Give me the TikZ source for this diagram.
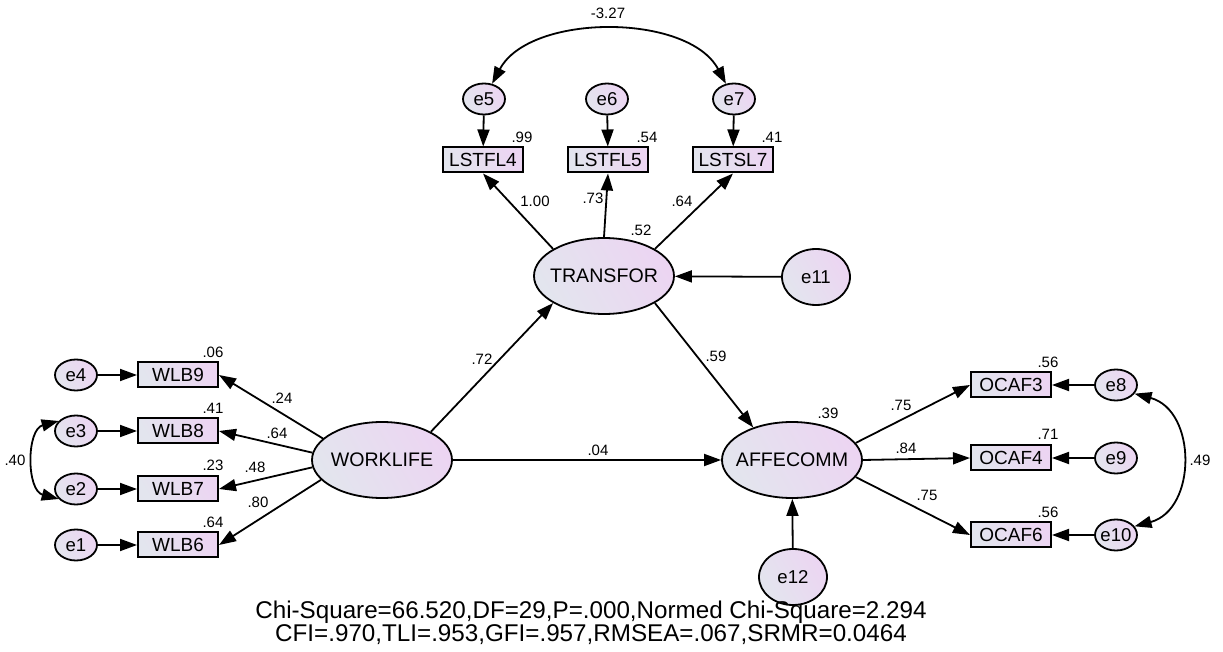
\documentclass[tikz,border=0pt]{standalone}
\usepackage{fontspec}
\setmainfont{Liberation Sans}
\usetikzlibrary{shapes.geometric}
\usetikzlibrary{arrows.meta}

\definecolor{fillA}{HTML}{E3E5EE}
\definecolor{fillB}{HTML}{ECD5F2}
% text that does not widen its ellipse
\newcommand{\inbox}[1]{\makebox[0pt]{#1}}

\begin{document}
\begin{tikzpicture}[x=0.5pt, y=-0.5pt,
    shadeit/.style={left color=fillA, right color=fillB, shading angle=120},
    latent/.style={ellipse, draw, line width=0.9pt, shadeit, inner sep=0pt,
        minimum width=70pt, minimum height=38pt, font=\fontsize{9.8}{11}\selectfont},
    err/.style={ellipse, draw, line width=0.9pt, shadeit, inner sep=0pt,
        minimum width=21pt, minimum height=15.5pt, font=\fontsize{9.3}{11}\selectfont},
    bigerr/.style={err, minimum width=34pt, minimum height=28pt},
    obs/.style={rectangle, draw, line width=1pt, shadeit, inner sep=0pt,
        minimum width=40pt, minimum height=12.5pt, font=\fontsize{9.5}{11}\selectfont},
    lbl/.style={inner sep=0pt, font=\fontsize{7.5}{9}\selectfont},
    path/.style={line width=0.9pt, -{Triangle[length=8.5pt,width=6pt]}},
    covar/.style={line width=0.9pt, {Triangle[length=8.5pt,width=6pt]}-{Triangle[length=8.5pt,width=6pt]}}]
            \useasboundingbox (0,0) rectangle (1223,652);
            % latent variables
            \node[latent] (trans) at (604,276) {\inbox{TRANSFOR}};
            \node[latent] (work) at (382,460) {\inbox{WORKLIFE}};
            \node[latent] (affe) at (792,460) {\inbox{AFFECOMM}};
            % indicators of TRANSFOR
            \node[obs] (lst4) at (483,160) {LSTFL4};
            \node[obs] (lst5) at (608,160) {LSTFL5};
            \node[obs] (lst7) at (733,160) {LSTSL7};
            \node[err] (e5) at (484,99) {\inbox{e5}};
            \node[err] (e6) at (607,99) {\inbox{e6}};
            \node[err] (e7) at (734,99) {\inbox{e7}};
            % indicators of WORKLIFE
            \node[obs] (wlb9) at (178,375) {WLB9};
            \node[obs] (wlb8) at (178,431) {WLB8};
            \node[obs] (wlb7) at (178,489) {WLB7};
            \node[obs] (wlb6) at (178,545) {WLB6};
            \node[err] (e4) at (76,375) {\inbox{e4}};
            \node[err] (e3) at (76,431) {\inbox{e3}};
            \node[err] (e2) at (76,489) {\inbox{e2}};
            \node[err] (e1) at (76,545) {\inbox{e1}};
            % indicators of AFFECOMM
            \node[obs] (ocaf3) at (1011,385) {OCAF3};
            \node[obs] (ocaf4) at (1011,458) {OCAF4};
            \node[obs] (ocaf6) at (1011,535) {OCAF6};
            \node[err] (e8) at (1116,385) {\inbox{e8}};
            \node[err] (e9) at (1116,458) {\inbox{e9}};
            \node[err] (e10) at (1116,535) {\inbox{e10}};
            % disturbances
            \node[bigerr] (e11) at (816,277) {\inbox{e11}};
            \node[bigerr] (e12) at (793,577) {\inbox{e12}};

            \draw[path] (e5) -- (lst4);
            \draw[path] (e6) -- (lst5);
            \draw[path] (e7) -- (lst7);
            \draw[path] (trans.152) -- (lst4.south);
            \draw[path] (trans.north) -- (lst5.south);
            \draw[path] (trans.28) -- (lst7.south);
            \draw[path] (e11) -- (trans);
            \draw[covar] (e5.62) to[out=62,in=118,looseness=0.88] (e7.118);

            \draw[path] (e4) -- (wlb9);
            \draw[path] (e3) -- (wlb8);
            \draw[path] (e2) -- (wlb7);
            \draw[path] (e1) -- (wlb6);
            \draw[path] (work.160) -- (wlb9.east);
            \draw[path] (work.174) -- (wlb8.east);
            \draw[path] (work.186) -- (wlb7.east);
            \draw[path] (work.198) -- (wlb6.east);
            \draw[covar] (e3.150) to[out=195,in=165,looseness=1.1] (e2.210);

            \draw[path] (work.30) -- (trans.208);
            \draw[path] (work) -- (affe);
            \draw[path] (trans.-28) -- (affe.140);
            \draw[path] (e12) -- (affe);

            \draw[path] (affe.15) -- (ocaf3.west);
            \draw[path] (affe.east) -- (ocaf4.west);
            \draw[path] (affe.-15) -- (ocaf6.west);
            \draw[path] (e8) -- (ocaf3);
            \draw[path] (e9) -- (ocaf4);
            \draw[path] (e10) -- (ocaf6);
            \draw[covar] (e8.-25) to[out=-15,in=15,looseness=1.25] (e10.25);

            % estimates
            \node[lbl] (c57) at (608,13) {-3.27};
            \node[lbl] (r4) at (522,137) {.99};
            \node[lbl] (r5) at (647,137) {.54};
            \node[lbl] (r7) at (772,137) {.41};
            \node[lbl] (w4) at (535,201) {1.00};
            \node[lbl] (w5) at (593,198) {.73};
            \node[lbl] (w7) at (682,201) {.64};
            \node[lbl] (rt) at (641,230) {.52};
            \node[lbl] (r9) at (213,352) {.06};
            \node[lbl] (r8) at (213,408) {.41};
            \node[lbl] (rw7) at (213,465) {.23};
            \node[lbl] (r6) at (213,522) {.64};
            \node[lbl] (w9) at (282,398) {.24};
            \node[lbl] (w8) at (277,433) {.64};
            \node[lbl] (ww7) at (255,467) {.48};
            \node[lbl] (w6) at (258,502) {.80};
            \node[lbl] (c23) at (15,460) {.40};
            \node[lbl] (wt) at (482,359) {.72};
            \node[lbl] (wa) at (598,450) {.04};
            \node[lbl] (ta) at (716,356) {.59};
            \node[lbl] (ra) at (828,413) {.39};
            \node[lbl] (a3) at (901,405) {.75};
            \node[lbl] (a4) at (906,448) {.84};
            \node[lbl] (a6) at (927,495) {.75};
            \node[lbl] (ro3) at (1048,362) {.56};
            \node[lbl] (ro4) at (1048,434) {.71};
            \node[lbl] (ro6) at (1048,512) {.56};
            \node[lbl] (c810) at (1200,460) {.49};

            % fit indices
            \node[font=\fontsize{12.1}{13.5}\selectfont, align=center, inner sep=0pt] (fit) at (591,623)
                {Chi-Square=66.520,DF=29,P=.000,Normed Chi-Square=2.294\\[-2pt]
                 CFI=.970,TLI=.953,GFI=.957,RMSEA=.067,SRMR=0.0464};
        \end{tikzpicture}
\end{document}
